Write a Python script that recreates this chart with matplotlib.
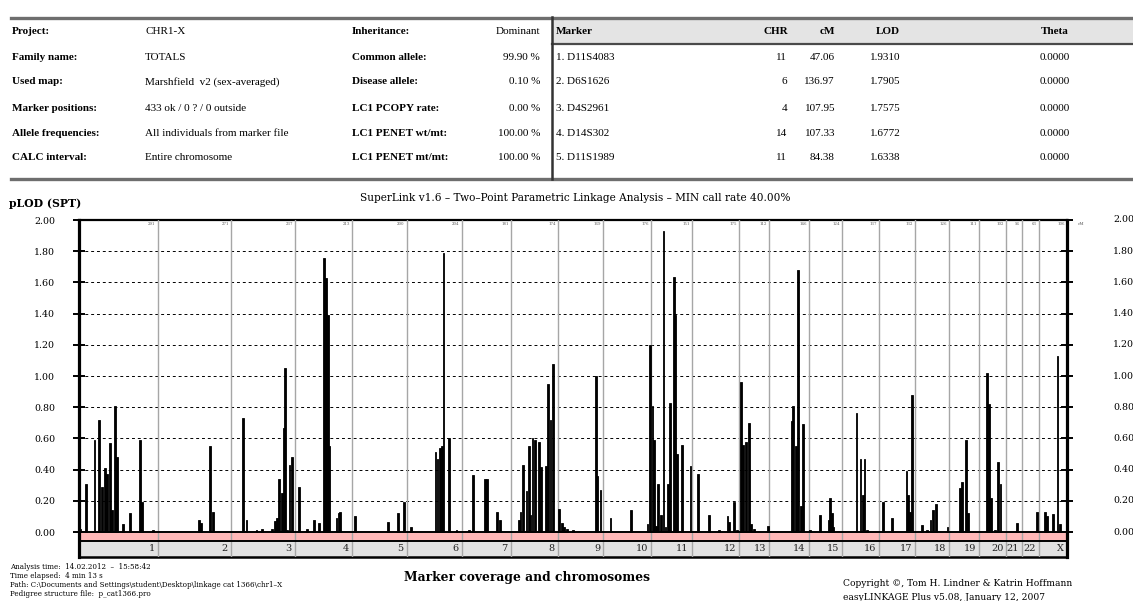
import numpy as np
import matplotlib.pyplot as plt
from matplotlib.lines import Line2D
from matplotlib.patches import Rectangle
from matplotlib import transforms

W, H = 1133, 601

# chromosome lengths (cM) and names
chrom_names = ['1', '2', '3', '4', '5', '6', '7', '8', '9', '10', '11', '12',
               '13', '14', '15', '16', '17', '18', '19', '20', '21', '22', 'X']
chrom_len = [291, 271, 237, 213, 200, 204, 181, 174, 169, 176, 151, 175,
             112, 146, 124, 137, 132, 126, 111, 102, 56, 63, 106]

# two-point LOD results: chromosome, position (cM), pLOD
peak_chr = (['1'] * 16 + ['2'] * 4 + ['3'] * 14 + ['4'] * 11 + ['5'] * 4 +
            ['6'] * 8 + ['7'] * 6 + ['8'] * 14 + ['9'] * 8 + ['10'] * 4 +
            ['11'] * 14 + ['12'] * 7 + ['13'] * 7 + ['14'] * 6 + ['15'] * 6 +
            ['16'] * 5 + ['17'] * 6 + ['18'] * 6 + ['19'] * 4 + ['20'] * 6 +
            ['21'] * 1 + ['22'] * 1 + ['X'] * 5)
peak_cm = [4, 26, 57, 75, 84, 97, 105, 114, 122, 132, 140, 164, 189, 226, 233, 275,
           154, 161, 194, 204,
           46, 58, 95, 115, 151, 164, 171, 179, 188, 195, 201, 208, 217, 227,
           15, 46, 70, 90, 107.95, 115, 122, 128, 154, 162, 168,
           8, 132, 167, 191,
           16, 107, 115, 124, 131, 136.97, 158, 185,
           28, 43, 87, 95, 132, 142,
           31, 37, 47, 59, 67, 74, 81, 89, 106, 113, 131, 139, 148, 158,
           5, 15, 24, 36, 58, 142, 148, 159,
           27, 103, 164, 172,
           6, 12, 19, 27, 37, 47.06, 54, 63, 70, 84.38, 90, 97, 114, 147,
           24, 65, 101, 133, 139, 157, 167,
           7, 16, 26, 37, 44, 56, 108,
           83, 89, 99, 107.33, 117, 126,
           5, 42, 73, 79, 85, 91,
           53, 68, 76, 83, 93,
           15, 46, 101, 107, 114, 121,
           25, 46, 58, 66, 77, 121,
           41, 49, 63, 71,
           31, 36, 44, 59, 71, 80,
           39,
           58,
           23, 32, 52, 70, 79]
peak_lod = [0.02, 0.31, 0.59, 0.72, 0.29, 0.41, 0.37, 0.57, 0.14, 0.81, 0.48, 0.05, 0.12, 0.59, 0.19, 0.01,
            0.08, 0.06, 0.55, 0.13,
            0.73, 0.08, 0.01, 0.02, 0.02, 0.07, 0.09, 0.34, 0.25, 0.67, 1.05, 0.01, 0.43, 0.48,
            0.29, 0.02, 0.08, 0.06, 1.7575, 1.63, 1.39, 0.55, 0.09, 0.12, 0.13,
            0.10, 0.066, 0.12, 0.19,
            0.03, 0.51, 0.47, 0.54, 0.55, 1.7905, 0.60, 0.01,
            0.01, 0.365, 0.34, 0.34, 0.13, 0.08,
            0.08, 0.13, 0.43, 0.26, 0.55, 0.11, 0.60, 0.59, 0.58, 0.42, 0.425, 0.95, 0.72, 1.08,
            0.145, 0.055, 0.034, 0.02, 0.01, 1.00, 0.36, 0.27,
            0.09, 0.14, 0.05, 1.20,
            0.81, 0.59, 0.04, 0.31, 0.11, 1.9310, 0.03, 0.31, 0.83, 1.6338, 1.39, 0.50, 0.56, 0.425,
            0.37, 0.11, 0.01, 0.10, 0.066, 0.19, 0.01,
            0.96, 0.56, 0.58, 0.70, 0.05, 0.02, 0.04,
            0.71, 0.81, 0.55, 1.6772, 0.17, 0.69,
            0.01, 0.11, 0.08, 0.22, 0.12, 0.03,
            0.76, 0.47, 0.24, 0.47, 0.01,
            0.19, 0.09, 0.39, 0.24, 0.13, 0.88,
            0.045, 0.013, 0.08, 0.14, 0.18, 0.03,
            0.28, 0.32, 0.59, 0.12,
            1.02, 0.82, 0.22, 0.01, 0.45, 0.31,
            0.055,
            0.13,
            0.13, 0.10, 0.115, 1.13, 0.05]

yticks = [0.0, 0.2, 0.4, 0.6, 0.8, 1.0, 1.2, 1.4, 1.6, 1.8, 2.0]

# header tables
info_labels = ['Project:', 'Family name:', 'Used map:', 'Marker positions:',
               'Allele frequencies:', 'CALC interval:']
info_values = ['CHR1-X', 'TOTALS', 'Marshfield  v2 (sex-averaged)',
               '433 ok / 0 ? / 0 outside', 'All individuals from marker file',
               'Entire chromosome']
param_labels = ['Inheritance:', 'Common allele:', 'Disease allele:',
                'LC1 PCOPY rate:', 'LC1 PENET wt/mt:', 'LC1 PENET mt/mt:']
param_values = ['Dominant', '99.90 %', '0.10 %', '0.00 %', '100.00 %', '100.00 %']
top_marker = ['1. D11S4083', '2. D6S1626', '3. D4S2961', '4. D14S302', '5. D11S1989']
top_chr = ['11', '6', '4', '14', '11']
top_cm = [47.06, 136.97, 107.95, 107.33, 84.38]
top_lod = [1.9310, 1.7905, 1.7575, 1.6772, 1.6338]
top_theta = [0.0, 0.0, 0.0, 0.0, 0.0]

serif = 'Liberation Serif'
wide = 'DejaVu Serif'
fs_tab = 8

fig = plt.figure(figsize=(W / 100, H / 100), dpi=100)


def fx(x):
    return x / W


def fy(y):
    return 1 - y / H


def fline(x0, x1, y0, y1, lw, color):
    fig.add_artist(Line2D([fx(x0), fx(x1)], [fy(y0), fy(y1)], lw=lw, color=color))


# ---- header tables ----
fig.add_artist(Rectangle((fx(552), fy(43)), fx(1133) - fx(552), fy(20) - fy(43),
                         facecolor='#e4e4e4', edgecolor='none'))
fline(11, 1133, 17.5, 17.5, 2.4, '#6e6e6e')
fline(11, 1133, 178.5, 178.5, 2.4, '#6e6e6e')
fline(552, 1133, 43.5, 43.5, 1.6, '#4a4a4a')
fline(552, 552, 17, 179, 1.8, '#333333')

row_y = [32, 57, 82, 108, 133, 158]
for i in range(6):
    y = fy(row_y[i])
    fig.text(fx(12), y, info_labels[i], fontsize=fs_tab, family=serif, weight='bold', va='center')
    fig.text(fx(145), y, info_values[i], fontsize=fs_tab, family=serif, va='center')
    fig.text(fx(352), y, param_labels[i], fontsize=fs_tab, family=serif, weight='bold', va='center')
    fig.text(fx(540), y, param_values[i], fontsize=fs_tab, family=serif, va='center', ha='right')

hy = fy(32)
fig.text(fx(556), hy, 'Marker', fontsize=fs_tab, family=serif, weight='bold', va='center')
fig.text(fx(788), hy, 'CHR', fontsize=fs_tab, family=serif, weight='bold', va='center', ha='right')
fig.text(fx(835), hy, 'cM', fontsize=fs_tab, family=serif, weight='bold', va='center', ha='right')
fig.text(fx(888), hy, 'LOD', fontsize=fs_tab, family=serif, weight='bold', va='center', ha='center')
fig.text(fx(1055), hy, 'Theta', fontsize=fs_tab, family=serif, weight='bold', va='center', ha='center')
for i in range(5):
    y = fy(row_y[i + 1])
    fig.text(fx(556), y, top_marker[i], fontsize=fs_tab, family=serif, va='center')
    fig.text(fx(787), y, top_chr[i], fontsize=fs_tab, family=serif, va='center', ha='right')
    fig.text(fx(835), y, '%.2f' % top_cm[i], fontsize=fs_tab, family=serif, va='center', ha='right')
    fig.text(fx(870), y, '%.4f' % top_lod[i], fontsize=fs_tab, family=serif, va='center')
    fig.text(fx(1055), y, '%.4f' % top_theta[i], fontsize=fs_tab, family=serif, va='center', ha='center')

# ---- LOD plot ----
ax = fig.add_axes([fx(79), fy(557), fx(1067.3) - fx(79), fy(220) - fy(557)])
ends = np.cumsum(chrom_len)
starts = ends - np.array(chrom_len)
total = ends[-1]
ax.set_xlim(0, total)
ax.set_ylim(-0.16, 2.0)

ci = [chrom_names.index(c) for c in peak_chr]
xpos = starts[ci] + np.array(peak_cm)
ax.bar(xpos, peak_lod, width=6.5, color='black', edgecolor='black', lw=0.6, zorder=5)

for v in yticks[1:-1]:
    ax.axhline(v, color='black', lw=0.7, ls=(0, (3, 3)), zorder=1)

ax.axhspan(-0.16, -0.058, color='#e2e2e2', lw=0, zorder=0)
ax.axhspan(-0.058, 0, color='#ffb8b8', lw=0, zorder=2)
for b in ends[:-1]:
    ax.axvline(b, color='#a6a6a6', lw=1.0, zorder=3)
ax.axhline(0, color='black', lw=1.4, zorder=6)
ax.axhline(-0.058, color='black', lw=1.4, zorder=6)

lab_tr = transforms.offset_copy(ax.transData, fig=fig, x=-3, y=0, units='dots')
len_tr = transforms.offset_copy(ax.transData, fig=fig, x=-2, y=0, units='dots')
for name, e, ln in zip(chrom_names, ends, chrom_len):
    ax.text(e, -0.107, name, transform=lab_tr, ha='right', va='center',
            fontsize=7, family=wide, color='#222222')
    ax.text(e, 1.99, str(ln), transform=len_tr, ha='right', va='top',
            fontsize=2.8, family=wide, color='#555555')
fig.text(fx(1078), fy(224), 'cM', fontsize=3, family=wide, color='#555555', va='center')

for side in ['left', 'right']:
    ax.spines[side].set_linewidth(2.3)
ax.spines['top'].set_linewidth(1.6)
ax.spines['bottom'].set_linewidth(1.8)

ax.set_xticks([])
ax.set_yticks(yticks)
ax.set_yticklabels(['%.2f' % v for v in yticks], family=wide)
ax.tick_params(axis='y', direction='inout', length=8.5, width=1.4, left=True, right=True,
               labelsize=6.8, pad=13, colors='black')

rt = transforms.blended_transform_factory(fig.transFigure, ax.transData)
for v in yticks:
    ax.text(fx(1113), v, '%.2f' % v, transform=rt, fontsize=6.8, family=wide,
            va='center', ha='left', clip_on=False)

fig.text(fx(575), fy(198), 'SuperLink v1.6 \u2013 Two\u2013Point Parametric Linkage Analysis \u2013 MIN call rate 40.00%',
         fontsize=7.6, family=wide, ha='center', va='center')
fig.text(fx(9), fy(204), 'pLOD (SPT)', fontsize=7.8, family=wide, weight='bold', va='center')

fig.text(fx(527), fy(577), 'Marker coverage and chromosomes', fontsize=8.8, family=wide,
         weight='bold', ha='center', va='center')

footer = ['Analysis time:  14.02.2012  \u2013  15:58:42',
          'Time elapsed:  4 min 13 s',
          'Path: C:\\Documents and Settings\\student\\Desktop\\linkage cat 1366\\chr1\u2013X',
          'Pedigree structure file:  p_cat1366.pro']
for i, line in enumerate(footer):
    fig.text(fx(10), fy(567 + 9 * i), line, fontsize=5.1, family=wide, va='center')

fig.text(fx(843), fy(584), 'Copyright \u00a9, Tom H. Lindner & Katrin Hoffmann',
         fontsize=6.6, family=wide, va='center')
fig.text(fx(843), fy(597), 'easyLINKAGE Plus v5.08, January 12, 2007',
         fontsize=6.6, family=wide, va='center')

fig.savefig('out.png', dpi=100, facecolor='white')
